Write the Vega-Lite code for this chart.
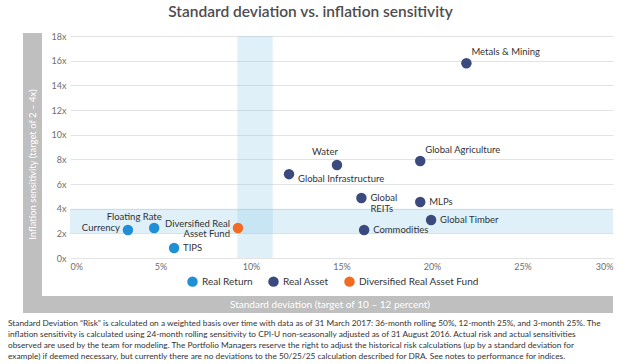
{
  "$schema": "https://vega.github.io/schema/vega-lite/v6.json",
  "padding": {"left": 8, "top": 4, "right": 5, "bottom": 0},
  "background": "white",
  "title": {"text": "Standard deviation vs. inflation sensitivity", "fontSize": 15.5, "fontWeight": 600, "color": "#4d4d4f", "font": "Lato", "anchor": "middle", "offset": 12},
  "config": {"font": "Lato", "view": {"stroke": null}, "concat": {"spacing": 0}},
  "datasets": {
    "points": [
      {"name": "Currency", "label": "Currency", "sd": 3.2, "infl": 2.27, "group": "Real Return"},
      {"name": "Floating Rate", "label": "Floating Rate", "sd": 4.65, "infl": 2.43, "group": "Real Return"},
      {"name": "TIPS", "label": "TIPS", "sd": 5.75, "infl": 0.81, "group": "Real Return"},
      {"name": "Diversified Real Asset Fund", "label": "Diversified Real\nAsset Fund", "sd": 9.28, "infl": 2.43, "group": "Diversified Real Asset Fund"},
      {"name": "Global Infrastructure", "label": "Global Infrastructure", "sd": 12.1, "infl": 6.8, "group": "Real Asset"},
      {"name": "Water", "label": "Water", "sd": 14.75, "infl": 7.54, "group": "Real Asset"},
      {"name": "Global REITs", "label": "Global\nREITs", "sd": 16.1, "infl": 4.87, "group": "Real Asset"},
      {"name": "Commodities", "label": "Commodities", "sd": 16.25, "infl": 2.27, "group": "Real Asset"},
      {"name": "Global Agriculture", "label": "Global Agriculture", "sd": 19.35, "infl": 7.87, "group": "Real Asset"},
      {"name": "MLPs", "label": "MLPs", "sd": 19.35, "infl": 4.54, "group": "Real Asset"},
      {"name": "Global Timber", "label": "Global Timber", "sd": 19.95, "infl": 3.08, "group": "Real Asset"},
      {"name": "Metals & Mining", "label": "Metals & Mining", "sd": 21.9, "infl": 15.8, "group": "Real Asset"}
    ],
    "bands": [
      {"sd": 0, "sd2": 30, "infl": 2, "infl2": 4},
      {"sd": 9.25, "sd2": 11.2, "infl": 0, "infl2": 18}
    ]
  },
  "spacing": 0,
  "vconcat": [
    {
      "spacing": 28,
      "bounds": "flush",
      "hconcat": [
        {
          "width": 19,
          "height": 263,
          "view": {"fill": "#bfbfbf", "stroke": null},
          "data": {"values": [{"t": "Inflation sensitivity (target of 2 – 4x)"}]},
          "mark": {"type": "text", "angle": 270, "color": "white", "fontSize": 9.5, "baseline": "middle", "align": "center"},
          "encoding": {"text": {"field": "t", "type": "nominal"}}
        },
        {
          "width": 543,
          "height": 225,
          "data": {"name": "points"},
          "encoding": {
            "x": {"field": "sd", "type": "quantitative", "title": null, "scale": {"domain": [0, 30], "nice": false},
              "axis": {"values": [0, 5, 10, 15, 20, 25, 30], "labelExpr": "datum.value + '%'", "grid": false, "domain": false, "ticks": false, "labelPadding": 4.5, "labelFontSize": 9, "labelColor": "#6d6e71", "labelFont": "Lato", "labelOverlap": false}},
            "y": {"field": "infl", "type": "quantitative", "title": null, "scale": {"domain": [0, 18.25], "nice": false},
              "axis": {"values": [0, 2, 4, 6, 8, 10, 12, 14, 16, 18], "labelExpr": "datum.value + 'x'", "grid": true, "gridColor": "#e3e3e3", "domain": false, "ticks": false, "labelPadding": 4, "labelFontSize": 9, "labelColor": "#6d6e71", "labelFont": "Lato", "labelOverlap": false}}
          },
          "layer": [
            {
              "data": {"name": "bands"},
              "mark": {"type": "rect", "color": "#7fc3e3", "opacity": 0.25},
              "encoding": {
                "x2": {"field": "sd2"},
                "y2": {"field": "infl2"}
              }
            },
            {
              "mark": {"type": "circle", "size": 110, "opacity": 1},
              "encoding": {
                "color": {"field": "group", "type": "nominal",
                  "scale": {"domain": ["Real Return", "Real Asset", "Diversified Real Asset Fund"], "range": ["#1f8fd6", "#3b4a7e", "#f26b21"]},
                  "legend": {"title": null, "orient": "none", "legendX": 164, "legendY": 243, "direction": "horizontal", "symbolType": "circle", "symbolSize": 110, "symbolStrokeWidth": 0, "symbolOpacity": 1, "labelFontSize": 10, "labelColor": "#333333", "labelFont": "Lato", "columnPadding": 15, "labelOffset": 4}}
              }
            },
            {
              "transform": [{"filter": {"field": "name", "oneOf": ["Global REITs", "MLPs", "Global Timber", "Commodities", "TIPS"]}}],
              "mark": {"type": "text", "align": "left", "baseline": "middle", "dx": 9, "fontSize": 9.5, "color": "#333333", "lineBreak": "\n", "lineHeight": 11},
              "encoding": {"text": {"field": "label", "type": "nominal"}}
            },
            {
              "transform": [{"filter": {"field": "name", "equal": "Global Infrastructure"}}],
              "mark": {"type": "text", "align": "left", "baseline": "middle", "dx": 9, "dy": 5, "fontSize": 9.5, "color": "#333333"},
              "encoding": {"text": {"field": "label", "type": "nominal"}}
            },
            {
              "transform": [{"filter": {"field": "name", "oneOf": ["Metals & Mining", "Global Agriculture"]}}],
              "mark": {"type": "text", "align": "left", "baseline": "middle", "dx": 5, "dy": -11, "fontSize": 9.5, "color": "#333333"},
              "encoding": {"text": {"field": "label", "type": "nominal"}}
            },
            {
              "transform": [{"filter": {"field": "name", "equal": "Water"}}],
              "mark": {"type": "text", "align": "center", "baseline": "middle", "dx": -12, "dy": -13, "fontSize": 9.5, "color": "#333333"},
              "encoding": {"text": {"field": "label", "type": "nominal"}}
            },
            {
              "transform": [{"filter": {"field": "name", "equal": "Currency"}}],
              "mark": {"type": "text", "align": "right", "baseline": "middle", "dx": -8, "dy": -2, "fontSize": 9.5, "color": "#333333"},
              "encoding": {"text": {"field": "label", "type": "nominal"}}
            },
            {
              "transform": [{"filter": {"field": "name", "equal": "Diversified Real Asset Fund"}}],
              "mark": {"type": "text", "align": "right", "baseline": "middle", "dx": -8, "dy": -4, "fontSize": 9.5, "color": "#333333", "lineBreak": "\n", "lineHeight": 9.5},
              "encoding": {"text": {"field": "label", "type": "nominal"}}
            },
            {
              "transform": [{"filter": {"field": "name", "equal": "Floating Rate"}}],
              "mark": {"type": "text", "align": "center", "baseline": "middle", "dx": -20, "dy": -11, "fontSize": 9.5, "color": "#333333"},
              "encoding": {"text": {"field": "label", "type": "nominal"}}
            }
          ]
        }
      ]
    },
    {
      "width": 590,
      "height": 17,
      "view": {"fill": "#bfbfbf", "stroke": null},
      "data": {"values": [{"t": "Standard deviation (target of 10 – 12 percent)"}]},
      "mark": {"type": "text", "color": "white", "fontSize": 10, "dx": 12, "baseline": "middle", "align": "center"},
      "encoding": {"text": {"field": "t", "type": "nominal"}},
      "title": {
        "text": [
          "Standard Deviation “Risk” is calculated on a weighted basis over time with data as of 31 March 2017:  36-month rolling 50%, 12-month 25%, and 3-month 25%. The",
          "inflation sensitivity is calculated using 24-month rolling sensitivity to CPI-U non-seasonally adjusted as of 31 August 2016.  Actual risk and actual sensitivities",
          "observed are used by the team for modeling. The Portfolio Managers reserve the right to adjust the historical risk calculations (up by a standard deviation for",
          "example) if deemed necessary, but currently there are no deviations to the 50/25/25 calculation described for DRA. See notes to performance for indices."
        ],
        "orient": "bottom", "anchor": "start", "fontSize": 8.3, "fontWeight": "normal", "color": "#333333", "font": "Lato", "lineHeight": 11, "offset": 6, "dx": -15
      }
    }
  ]
}
